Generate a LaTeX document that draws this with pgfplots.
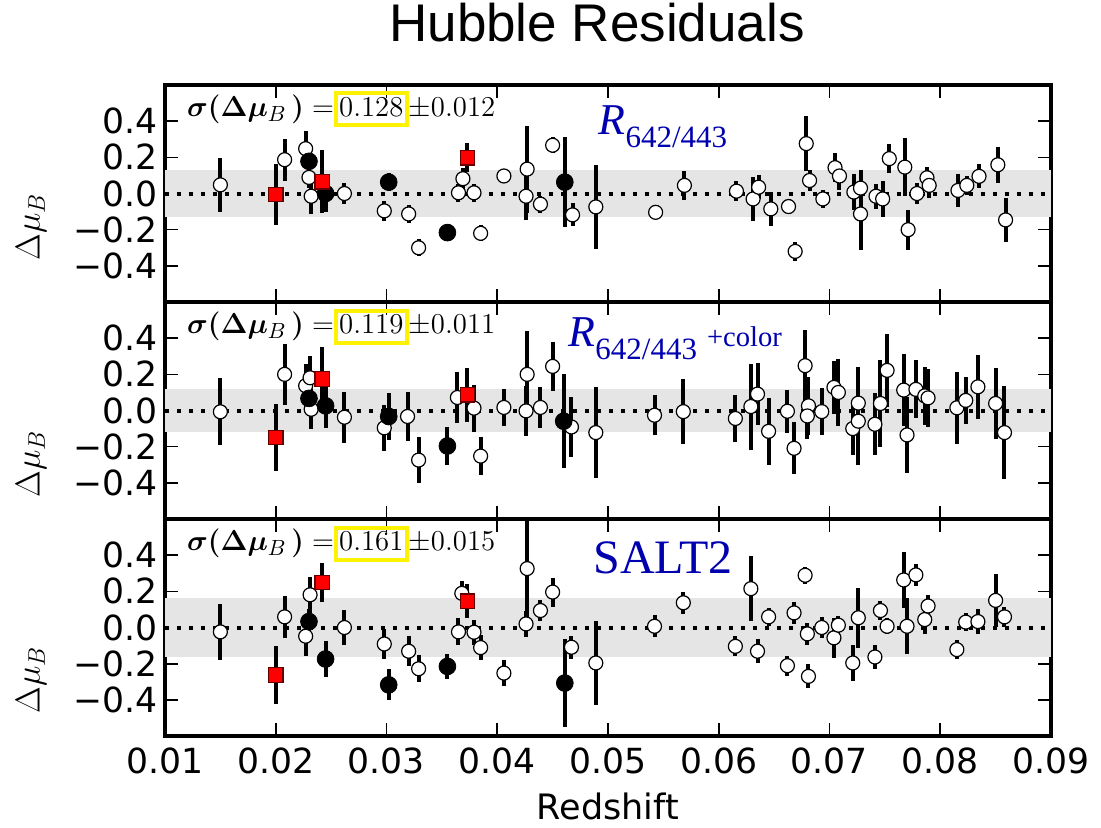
\documentclass[border=0pt]{standalone}
\usepackage{pgfplots}
\pgfplotsset{compat=1.18}
\usepackage{pgfplotstable}
\usepackage{fontspec}
\usepackage{amsmath}
\usepackage{bm}
\newfontfamily\dejavu{DejaVu Sans}
\newfontfamily\libsans{Liberation Sans}
\newfontfamily\libserif{Liberation Serif}
\definecolor{bandgray}{RGB}{229,229,229}
\definecolor{lblue}{RGB}{0,0,175}

% ---------------- Panel 1 : R642/443 ----------------
\pgfplotstableread{
z d e
0.0150 0.048 0.15
0.0208 0.187 0.115
0.0227 0.248 0.10
0.0230 0.089 0.06
0.0232 -0.015 0.10
0.0262 0.000 0.057
0.0298 -0.096 0.057
0.0320 -0.113 0.048
0.0329 -0.300 0.048
0.0365 0.004 0.05
0.0369 0.082 0.06
0.0379 0.004 0.05
0.0385 -0.220 0.045
0.0406 0.097 0.04
0.0427 0.135 0.24
0.0426 -0.015 0.13
0.0439 -0.059 0.046
0.0450 0.267 0.043
0.0468 -0.118 0.064
0.0489 -0.074 0.23
0.0543 -0.104 0.037
0.0569 0.045 0.08
0.0616 0.013 0.054
0.0631 -0.030 0.12
0.0636 0.035 0.065
0.0647 -0.085 0.093
0.0663 -0.072 0.043
0.0669 -0.320 0.053
0.0679 0.276 0.15
0.0682 0.072 0.057
0.0694 -0.030 0.05
0.0705 0.143 0.08
0.0709 0.097 0.08
0.0722 0.008 0.10
0.0728 0.030 0.10
0.0728 -0.113 0.20
0.0742 -0.015 0.07
0.0748 -0.030 0.10
0.0754 0.193 0.08
0.0768 0.146 0.16
0.0771 -0.200 0.11
0.0779 0.000 0.057
0.0788 0.087 0.06
0.0790 0.045 0.07
0.0816 0.017 0.09
0.0824 0.045 0.053
0.0835 0.095 0.067
0.0852 0.159 0.10
0.0859 -0.146 0.12
}\Aopen
\pgfplotstableread{
z d e
0.0230 0.178 0.08
0.0245 0.000 0.10
0.0302 0.063 0.048
0.0355 -0.216 0.047
0.0461 0.063 0.25
}\Ablack
\pgfplotstableread{
z d e
0.0200 -0.005 0.17
0.0242 0.065 0.175
0.0373 0.198 0.08
}\Ared

% ---------------- Panel 2 : R642/443 + color ----------------
\pgfplotstableread{
z d e
0.0150 -0.007 0.185
0.0208 0.200 0.17
0.0227 0.137 0.12
0.0231 0.181 0.12
0.0232 0.007 0.11
0.0262 -0.037 0.14
0.0298 -0.096 0.127
0.0319 -0.033 0.134
0.0329 -0.274 0.125
0.0364 0.072 0.14
0.0379 0.013 0.13
0.0385 -0.252 0.107
0.0406 0.017 0.10
0.0427 0.200 0.24
0.0426 -0.002 0.137
0.0439 0.017 0.115
0.0450 0.244 0.137
0.0467 -0.091 0.168
0.0489 -0.122 0.25
0.0542 -0.026 0.111
0.0568 -0.006 0.178
0.0615 -0.044 0.129
0.0629 0.022 0.238
0.0635 0.091 0.17
0.0645 -0.115 0.185
0.0662 -0.004 0.118
0.0668 -0.209 0.144
0.0678 0.248 0.20
0.0681 0.026 0.16
0.0680 -0.030 0.13
0.0693 -0.006 0.13
0.0704 0.128 0.148
0.0708 0.100 0.185
0.0721 -0.100 0.148
0.0726 0.041 0.20
0.0726 -0.059 0.24
0.0741 -0.076 0.172
0.0746 0.039 0.24
0.0752 0.222 0.20
0.0767 0.113 0.20
0.0770 -0.135 0.21
0.0778 0.117 0.16
0.0786 0.081 0.16
0.0789 0.070 0.16
0.0815 0.015 0.20
0.0823 0.056 0.13
0.0834 0.131 0.176
0.0850 0.039 0.195
0.0858 -0.122 0.255
}\Bopen
\pgfplotstableread{
z d e
0.0230 0.067 0.10
0.0245 0.026 0.12
0.0302 -0.033 0.13
0.0355 -0.196 0.107
0.0460 -0.059 0.26
}\Bblack
\pgfplotstableread{
z d e
0.0200 -0.150 0.187
0.0242 0.174 0.18
0.0373 0.087 0.15
}\Bred

% ---------------- Panel 3 : SALT2 ----------------
\pgfplotstableread{
z d e
0.0150 -0.024 0.153
0.0208 0.059 0.118
0.0227 -0.048 0.11
0.0231 0.181 0.10
0.0262 0.000 0.095
0.0298 -0.091 0.083
0.0320 -0.131 0.083
0.0329 -0.228 0.075
0.0365 -0.024 0.074
0.0368 0.189 0.07
0.0379 -0.026 0.07
0.0385 -0.111 0.07
0.0406 -0.252 0.07
0.0427 0.326 0.28
0.0426 0.020 0.07
0.0439 0.094 0.06
0.0450 0.196 0.08
0.0467 -0.109 0.063
0.0489 -0.196 0.234
0.0542 0.007 0.06
0.0568 0.137 0.06
0.0615 -0.104 0.056
0.0629 0.215 0.18
0.0635 -0.131 0.066
0.0645 0.059 0.05
0.0662 -0.211 0.056
0.0668 0.081 0.06
0.0678 0.289 0.047
0.0680 -0.035 0.06
0.0681 -0.270 0.066
0.0693 0.000 0.06
0.0704 -0.057 0.11
0.0708 0.013 0.05
0.0721 -0.196 0.10
0.0726 0.054 0.167
0.0741 -0.163 0.065
0.0746 0.094 0.05
0.0752 0.007 0.045
0.0767 0.263 0.155
0.0770 0.007 0.155
0.0778 0.291 0.06
0.0786 0.044 0.08
0.0789 0.119 0.06
0.0815 -0.122 0.053
0.0823 0.030 0.05
0.0834 0.033 0.07
0.0850 0.150 0.146
0.0858 0.059 0.055
}\Copen
\pgfplotstableread{
z d e
0.0230 0.033 0.07
0.0245 -0.174 0.10
0.0302 -0.317 0.085
0.0355 -0.215 0.071
0.0461 -0.307 0.244
}\Cblack
\pgfplotstableread{
z d e
0.0200 -0.263 0.162
0.0242 0.248 0.108
0.0373 0.146 0.094
}\Cred

\pgfplotsset{
  panel/.style={
    scale only axis, width=443pt, height=108.5pt,
    xmin=0.01, xmax=0.09, ymin=-0.6, ymax=0.6,
    scaled x ticks=false, scaled y ticks=false,
    axis line style={line width=1.6pt},
    tick style={line width=0.8pt, black},
    major tick length=6.5pt,
    tick align=inside,
    xtick={0.01,0.02,0.03,0.04,0.05,0.06,0.07,0.08,0.09},
    xticklabels={},
    ytick={-0.4,-0.2,0,0.2,0.4},
    yticklabels={−0.4,−0.2,0.0,0.2,0.4},
    ticklabel style={font=\dejavu\fontsize{17.3}{17.3}\selectfont},
    ylabel={$\Delta\mu_B$},
  },
  errs/.style={only marks, mark=none, forget plot,
    error bars/.cd, y dir=both, y explicit, error mark=none,
    error bar style={line width=2pt, draw=black, solid}},
  openm/.style={only marks, mark=*, mark size=3.5pt,
    mark options={fill=white, draw=black, line width=0.6pt}},
  blackm/.style={only marks, mark=*, mark size=4.2pt,
    mark options={fill=black, draw=black}},
  redm/.style={only marks, mark=square*, mark size=3.6pt,
    mark options={fill=red, draw=black!60!red, line width=0.6pt}},
  zeroline/.style={black, line width=2pt, dash pattern=on 2pt off 4pt},
}

\newcommand{\sigmanote}[2]{{\fontsize{15.5}{15.5}\selectfont
  $\bm{\sigma}\bm{(}\bm{\Delta}\bm{\mu}_{B}\,\bm{)}=$%
  {\setlength{\fboxrule}{2pt}\setlength{\fboxsep}{0.6pt}\color{yellow}\fbox{\color{black}\rule[-3pt]{0pt}{12.8pt}$#1$}}%
  $\pm#2$}}

\begin{document}
\begin{tikzpicture}
\useasboundingbox (-82.5pt,42.5pt) rectangle (468pt,-371pt);

% ---------- Panel 1 ----------
\begin{axis}[panel, at={(0,0)}, anchor=north west,
  ylabel style={at={(rel axis cs:-0.151,0.347)}, anchor=center, font=\fontsize{18.5}{18.5}\selectfont},
  title={Hubble Residuals},
  title style={at={(rel axis cs:0.4876,1)}, anchor=base, yshift=15.85pt, inner sep=0pt,
    font=\libsans\fontsize{26.5}{26.5}\selectfont}]
\addplot[fill=bandgray, draw=none, forget plot] coordinates {(0.01,-0.128) (0.09,-0.128) (0.09,0.128) (0.01,0.128)} -- cycle;
\addplot[zeroline, forget plot] coordinates {(0.01,0) (0.09,0)};
\addplot[errs] table[x=z, y=d, y error=e] {\Aopen};
\addplot[errs] table[x=z, y=d, y error=e] {\Ablack};
\addplot[errs] table[x=z, y=d, y error=e] {\Ared};
\addplot[openm] table[x=z, y=d] {\Aopen};
\addplot[blackm] table[x=z, y=d] {\Ablack};
\addplot[redm] table[x=z, y=d] {\Ared};
\node[anchor=base west, inner sep=0pt] at (rel axis cs:0.0245,0.857) {\sigmanote{0.128}{0.012}};
\node[anchor=base west, inner sep=0pt, text=lblue] at (rel axis cs:0.489,0.77)
  {\libserif\fontsize{22}{22}\selectfont\itshape R\upshape\raisebox{-6.5pt}{\fontsize{15.5}{15.5}\selectfont 642/443}};
\end{axis}

% ---------- Panel 2 ----------
\begin{axis}[panel, at={(0,-108.5pt)}, anchor=north west,
  ylabel style={at={(rel axis cs:-0.151,0.253)}, anchor=center, font=\fontsize{18.5}{18.5}\selectfont}]
\addplot[fill=bandgray, draw=none, forget plot] coordinates {(0.01,-0.119) (0.09,-0.119) (0.09,0.119) (0.01,0.119)} -- cycle;
\addplot[zeroline, forget plot] coordinates {(0.01,0) (0.09,0)};
\addplot[errs] table[x=z, y=d, y error=e] {\Bopen};
\addplot[errs] table[x=z, y=d, y error=e] {\Bblack};
\addplot[errs] table[x=z, y=d, y error=e] {\Bred};
\addplot[openm] table[x=z, y=d] {\Bopen};
\addplot[blackm] table[x=z, y=d] {\Bblack};
\addplot[redm] table[x=z, y=d] {\Bred};
\node[anchor=base west, inner sep=0pt] at (rel axis cs:0.0245,0.855) {\sigmanote{0.119}{0.011}};
\node[anchor=base west, inner sep=0pt, text=lblue] at (rel axis cs:0.455,0.793)
  {\libserif\fontsize{22}{22}\selectfont\itshape R\upshape\raisebox{-6.4pt}{\fontsize{15.5}{15.5}\selectfont 642/443}\hspace{5pt}{\fontsize{14.3}{14.3}\selectfont +color}};
\end{axis}

% ---------- Panel 3 ----------
\begin{axis}[panel, at={(0,-217pt)}, anchor=north west,
  ylabel style={at={(rel axis cs:-0.151,0.26)}, anchor=center, font=\fontsize{18.5}{18.5}\selectfont},
  xticklabels={0.01,0.02,0.03,0.04,0.05,0.06,0.07,0.08,0.09},
  xticklabel style={yshift=-2.5pt},
  xlabel={Redshift},
  xlabel style={font=\dejavu\fontsize{17.5}{17.5}\selectfont, inner sep=0pt, yshift=-6pt}]
\addplot[fill=bandgray, draw=none, forget plot] coordinates {(0.01,-0.161) (0.09,-0.161) (0.09,0.161) (0.01,0.161)} -- cycle;
\addplot[zeroline, forget plot] coordinates {(0.01,0) (0.09,0)};
\addplot[errs] table[x=z, y=d, y error=e] {\Copen};
\addplot[errs] table[x=z, y=d, y error=e] {\Cblack};
\addplot[errs] table[x=z, y=d, y error=e] {\Cred};
\addplot[openm] table[x=z, y=d] {\Copen};
\addplot[blackm] table[x=z, y=d] {\Cblack};
\addplot[redm] table[x=z, y=d] {\Cred};
\node[anchor=base west, inner sep=0pt] at (rel axis cs:0.0245,0.855) {\sigmanote{0.161}{0.015}};
\node[anchor=base west, inner sep=0pt, text=lblue] at (rel axis cs:0.483,0.747)
  {\libserif\fontsize{24}{24}\selectfont SALT2};
\end{axis}
\end{tikzpicture}
\end{document}
